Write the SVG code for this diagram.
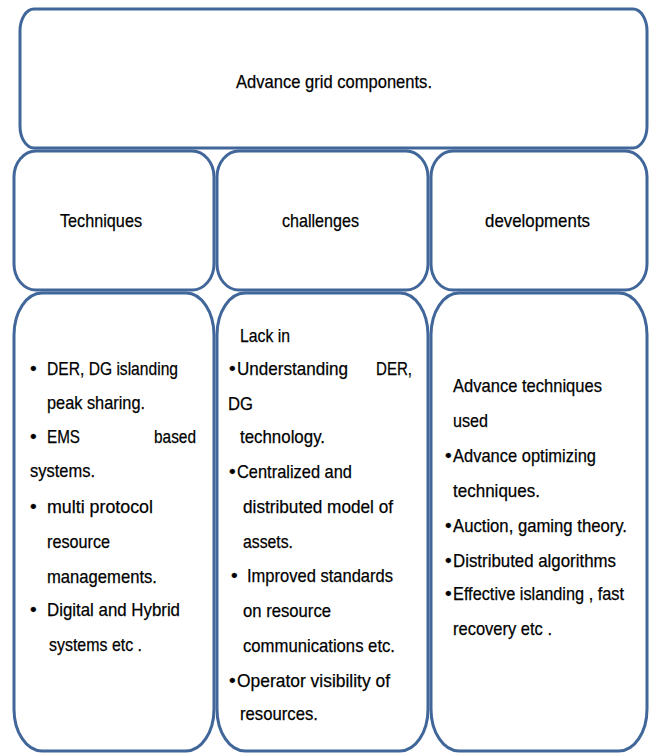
<svg xmlns="http://www.w3.org/2000/svg" width="650" height="754" viewBox="0 0 650 754">
<style>
.box{fill:#ffffff;stroke:#41679A;stroke-width:3}
.t{font-family:"Liberation Sans Narrow","Liberation Sans",Arial,sans-serif;font-size:19px;fill:#000000;stroke:#000000;stroke-width:0.25}
.s{font-size:17.5px}
</style>
<rect width="650" height="754" fill="#ffffff"/>
<g id="top">
<rect class="box" x="20" y="9" width="627" height="139" rx="14" ry="22"/>
<text class="t" x="236" y="88" textLength="196" lengthAdjust="spacingAndGlyphs">Advance grid components.</text>
</g>
<g id="techniques">
<rect class="box" x="14" y="151" width="200" height="139" rx="22" ry="26"/>
<text class="t" x="60" y="227" textLength="82" lengthAdjust="spacingAndGlyphs">Techniques</text>
</g>
<g id="challenges">
<rect class="box" x="217" y="151" width="211" height="139" rx="22" ry="26"/>
<text class="t" x="282" y="227" textLength="77" lengthAdjust="spacingAndGlyphs">challenges</text>
</g>
<g id="developments">
<rect class="box" x="431" y="151" width="216" height="139" rx="22" ry="26"/>
<text class="t" x="485" y="227" textLength="105" lengthAdjust="spacingAndGlyphs">developments</text>
</g>
<g id="techniques-list">
<rect class="box" x="14" y="293" width="200" height="458" rx="28" ry="42"/>
<text class="t" x="30" y="375">•</text>
<text class="t" x="47" y="375" textLength="131" lengthAdjust="spacingAndGlyphs">DER, DG islanding</text>
<text class="t" x="47" y="409" textLength="98" lengthAdjust="spacingAndGlyphs">peak sharing.</text>
<text class="t" x="30" y="443">•</text>
<text class="t" x="47" y="443" textLength="33" lengthAdjust="spacingAndGlyphs">EMS</text>
<text class="t" x="154" y="443" textLength="42" lengthAdjust="spacingAndGlyphs">based</text>
<text class="t" x="30" y="477" textLength="65" lengthAdjust="spacingAndGlyphs">systems.</text>
<text class="t" x="30" y="513">•</text>
<text class="t" x="47" y="513" textLength="106" lengthAdjust="spacingAndGlyphs">multi protocol</text>
<text class="t" x="47" y="548" textLength="63" lengthAdjust="spacingAndGlyphs">resource</text>
<text class="t" x="47" y="583" textLength="110" lengthAdjust="spacingAndGlyphs">managements.</text>
<text class="t" x="30" y="616">•</text>
<text class="t" x="47" y="616" textLength="133" lengthAdjust="spacingAndGlyphs">Digital and Hybrid</text>
<text class="t" x="49" y="651" textLength="93" lengthAdjust="spacingAndGlyphs">systems etc .</text>
</g>
<g id="challenges-list">
<rect class="box" x="217" y="293" width="211" height="458" rx="28" ry="42"/>
<text class="t" x="240" y="342" textLength="50" lengthAdjust="spacingAndGlyphs">Lack in</text>
<text class="t" x="229" y="375">•</text>
<text class="t" x="237" y="375" textLength="111" lengthAdjust="spacingAndGlyphs">Understanding</text>
<text class="t" x="376" y="375" textLength="36" lengthAdjust="spacingAndGlyphs">DER,</text>
<text class="t" x="228" y="410" textLength="25" lengthAdjust="spacingAndGlyphs">DG</text>
<text class="t" x="240" y="443" textLength="85" lengthAdjust="spacingAndGlyphs">technology.</text>
<text class="t" x="229" y="478">•</text>
<text class="t" x="237" y="478" textLength="115" lengthAdjust="spacingAndGlyphs">Centralized and</text>
<text class="t" x="243" y="513" textLength="150" lengthAdjust="spacingAndGlyphs">distributed model of</text>
<text class="t" x="243" y="548" textLength="50" lengthAdjust="spacingAndGlyphs">assets.</text>
<text class="t" x="231" y="582">•</text>
<text class="t" x="247" y="582" textLength="146" lengthAdjust="spacingAndGlyphs">Improved standards</text>
<text class="t" x="243" y="617" textLength="88" lengthAdjust="spacingAndGlyphs">on resource</text>
<text class="t" x="243" y="652" textLength="152" lengthAdjust="spacingAndGlyphs">communications etc.</text>
<text class="t" x="229" y="687">•</text>
<text class="t" x="237" y="687" textLength="153" lengthAdjust="spacingAndGlyphs">Operator visibility of</text>
<text class="t" x="240" y="720" textLength="78" lengthAdjust="spacingAndGlyphs">resources.</text>
</g>
<g id="developments-list">
<rect class="box" x="431" y="293" width="216" height="458" rx="28" ry="42"/>
<text class="t" x="453" y="392" textLength="149" lengthAdjust="spacingAndGlyphs">Advance techniques</text>
<text class="t" x="453" y="427" textLength="35" lengthAdjust="spacingAndGlyphs">used</text>
<text class="t" x="445" y="462">•</text>
<text class="t" x="453" y="462" textLength="143" lengthAdjust="spacingAndGlyphs">Advance optimizing</text>
<text class="t" x="453" y="497" textLength="87" lengthAdjust="spacingAndGlyphs">techniques.</text>
<text class="t" x="445" y="532">•</text>
<text class="t" x="453" y="532" textLength="174" lengthAdjust="spacingAndGlyphs">Auction, gaming theory.</text>
<text class="t" x="445" y="567">•</text>
<text class="t" x="453" y="567" textLength="163" lengthAdjust="spacingAndGlyphs">Distributed algorithms</text>
<text class="t" x="445" y="600">•</text>
<text class="t s" x="453" y="600" textLength="171" lengthAdjust="spacingAndGlyphs">Effective islanding , fast</text>
<text class="t" x="453" y="635" textLength="99" lengthAdjust="spacingAndGlyphs">recovery etc .</text>
</g>
<g id="connectors"/>
</svg>
